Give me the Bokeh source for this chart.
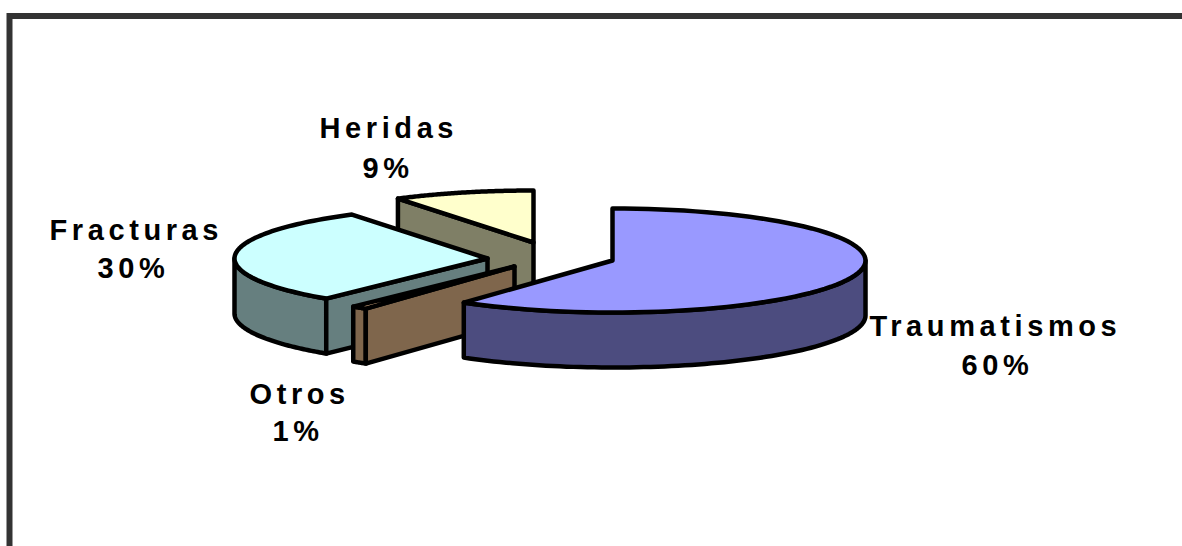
import numpy as np
from bokeh.plotting import figure
from bokeh.embed import file_html
from bokeh.resources import INLINE
from bokeh.core.properties import value

# chart data: slices clockwise from 12 o'clock
categories = ["Traumatismos", "Otros", "Fracturas", "Heridas"]
values = [60, 1, 30, 9]
top_colors = ["#9999FF", "#FFCC99", "#CCFFFF", "#FFFFCC"]
side_colors = ["#4C4C7F", "#7F664C", "#667F7F", "#7F7F66"]

# layout of the 3D projection
RX, RY, DEPTH = 253, 52, 55
centers = {"Traumatismos": (612, 260), "Otros": (514, 266), "Fracturas": (487, 258), "Heridas": (533, 242)}
label_pos = {"Traumatismos": (869, 961, 325, 364), "Otros": (249, 272, 393, 430),
             "Fracturas": (49, 97, 229, 267.5), "Heridas": (319, 362, 127.5, 167)}
FONT = "Liberation Sans"
LW = 4.5

p = figure(width=1182, height=546, x_range=(0, 1182), y_range=(546, 0),
           output_backend="svg", toolbar_location=None, min_border=0,
           outline_line_color=None, background_fill_color="white",
           border_fill_color="white")
p.styles = {"letter-spacing": "4.6px"}
p.axis.visible = False
p.grid.visible = False

# chart frame (runs off the right and bottom of the picture)
p.line([9, 9, 1200], [560, 15.5, 15.5], line_color="#333333", line_width=6, line_join="miter")

def arc(cx, cy, a0, a1, n=80):
    t = np.radians(np.linspace(a0, a1, n))
    return cx + RX * np.sin(t), cy - RY * np.cos(t)

def px(cx, cy, a):
    t = np.radians(a)
    return cx + RX * np.sin(t), cy - RY * np.cos(t)

total = sum(values)
spans = {}
acc = 0
for c, v in zip(categories, values):
    spans[c] = (acc * 360 / total, (acc + v) * 360 / total)
    acc += v

def draw(name):
    i = categories.index(name)
    a0, a1 = spans[name]
    cx, cy = centers[name]
    top, side = top_colors[i], side_colors[i]
    kw = dict(line_color="black", line_width=LW, line_join="round")
    # outer rim: only the front half (90..270 deg) shows
    r0, r1 = max(a0, 90), min(a1, 270)
    if r1 > r0:
        xs, ys = arc(cx, cy, r0, r1)
        p.patch(np.r_[xs, xs[::-1]], np.r_[ys, ys[::-1] + DEPTH], fill_color=side, **kw)
    # the cut wall at the slice's first angle faces the viewer on the left half
    if a0 > 180:
        ex, ey = px(cx, cy, a0)
        p.patch([cx, ex, ex, cx], [cy, ey, ey + DEPTH, cy + DEPTH], fill_color=side, **kw)
    xs, ys = arc(cx, cy, a0, a1)
    p.patch(np.r_[cx, xs], np.r_[cy, ys], fill_color=top, **kw)

for name in ["Heridas", "Fracturas", "Otros", "Traumatismos"]:
    draw(name)

x1 = [label_pos[c][0] for c in categories]
x2 = [label_pos[c][1] for c in categories]
y1 = [label_pos[c][2] for c in categories]
y2 = [label_pos[c][3] for c in categories]
common = dict(text_font=value(FONT), text_font_style="bold", text_font_size="29px",
              text_color="black", text_align="left", text_baseline="middle")
p.text(x1, y1, text=categories, **common)
p.text(x2, y2, text=[f"{v}%" for v in values], **common)

open("out.html", "w").write(file_html(p, INLINE))
